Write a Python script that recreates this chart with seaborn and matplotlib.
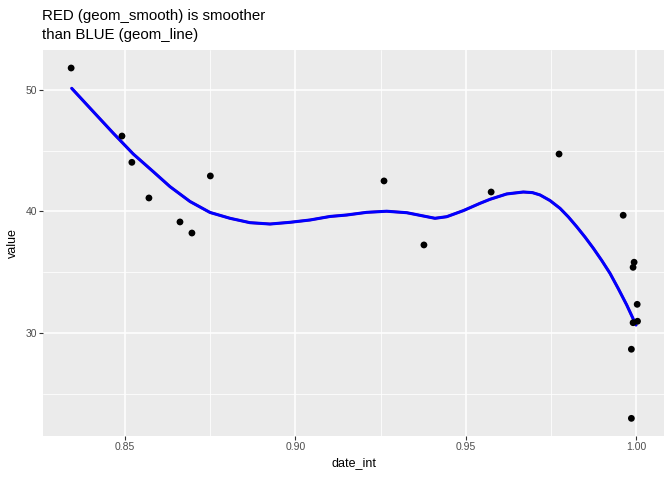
import matplotlib
matplotlib.use("Agg")
import matplotlib.pyplot as plt
import seaborn as sns
import pandas as pd
from matplotlib.ticker import FixedLocator

# Observed points
date_int = [0.8343, 0.8492, 0.8521, 0.8571, 0.8662, 0.8697, 0.8751, 0.9260, 0.9377,
            0.9574, 0.9773, 0.9961, 0.9993, 0.9990, 1.0002, 0.9990, 1.0003, 0.9985, 0.9985]
value = [51.79, 46.20, 44.04, 41.11, 39.14, 38.23, 42.92, 42.51, 37.25,
         41.60, 44.72, 39.69, 35.83, 35.41, 32.37, 30.86, 30.98, 28.68, 23.0]

# Fitted curve
curve_x = [0.83447, 0.84080, 0.84666, 0.85252, 0.85838, 0.86328, 0.86914, 0.87500,
           0.88086, 0.88672, 0.89259, 0.89845, 0.90431, 0.91017, 0.91506, 0.92093,
           0.92679, 0.93265, 0.93751, 0.94094, 0.94437, 0.94924, 0.95413, 0.95706,
           0.96196, 0.96682, 0.96950, 0.97172, 0.97464, 0.97758, 0.98004, 0.98247,
           0.98490, 0.98734, 0.98980, 0.99223, 0.99468, 0.99713, 0.99986]
curve_y = [50.12, 48.20, 46.43, 44.72, 43.27, 42.04, 40.82, 39.92,
           39.44, 39.08, 38.97, 39.11, 39.30, 39.59, 39.71, 39.93,
           40.02, 39.90, 39.63, 39.44, 39.57, 40.07, 40.67, 41.00,
           41.44, 41.60, 41.55, 41.36, 40.90, 40.26, 39.55, 38.75,
           37.90, 36.98, 35.98, 34.92, 33.65, 32.32, 30.67]

x_ticks = [0.85, 0.90, 0.95, 1.00]
x_tick_labels = ["0.85", "0.90", "0.95", "1.00"]
y_ticks = [30, 40, 50]
y_tick_labels = ["30", "40", "50"]
title_lines = ["RED (geom_smooth) is smoother", "than BLUE (geom_line)"]

pts = pd.DataFrame({"date_int": date_int, "value": value})
crv = pd.DataFrame({"date_int": curve_x, "value": curve_y})

sns.set_theme(style="darkgrid")
plt.rcParams["font.family"] = ["Liberation Sans", "DejaVu Sans"]

W, H = 672, 480
fig = plt.figure(figsize=(6.72, 4.8), dpi=100)
L, R, T, B = 43.3, 664, 50, 436
ax = fig.add_axes([L/W, 1-B/H, (R-L)/W, (B-T)/H])
ax.set_facecolor("#EBEBEB")

sns.lineplot(data=crv, x="date_int", y="value", ax=ax, color="red", lw=1.8, sort=False,
             zorder=3, solid_joinstyle="round")
sns.lineplot(data=crv, x="date_int", y="value", ax=ax, color="blue", lw=2.2, sort=False,
             zorder=4, solid_joinstyle="round")
sns.scatterplot(data=pts, x="date_int", y="value", ax=ax, color="black", s=24,
                edgecolor="none", zorder=5)

ax.set_xlim(0.82614, 1.00806)
ax.set_ylim(21.55, 53.27)
ax.xaxis.set_major_locator(FixedLocator(x_ticks))
ax.set_xticklabels(x_tick_labels)
ax.yaxis.set_major_locator(FixedLocator(y_ticks))
ax.set_yticklabels(y_tick_labels)
ax.xaxis.set_minor_locator(FixedLocator([0.825, 0.875, 0.925, 0.975, 1.025]))
ax.yaxis.set_minor_locator(FixedLocator([25, 35, 45, 55]))

ax.grid(which="major", color="white", lw=1.1)
ax.grid(which="minor", color="white", lw=0.55)
ax.set_axisbelow(True)
for s in ax.spines.values():
    s.set_visible(False)

ax.tick_params(axis="both", which="major", length=2.7, width=0.8, color="#333333",
               labelsize=7.5, labelcolor="#4D4D4D", pad=1.6, direction="out",
               bottom=True, left=True)
ax.tick_params(which="minor", length=0)

ax.set_xlabel("")
ax.set_ylabel("")
fig.text(353.7/W, 1-463/H, "date_int", fontsize=9, ha="center", va="center", color="black")
fig.text(13/W, 1-243/H, "value", fontsize=9, rotation=90, ha="center", va="center", color="black")

fig.text(42/W, 1-20/H, title_lines[0], fontsize=10.8, ha="left", va="baseline", color="black")
fig.text(42/W, 1-39.5/H, title_lines[1], fontsize=10.8, ha="left", va="baseline", color="black")

fig.savefig("out.png", dpi=100)
